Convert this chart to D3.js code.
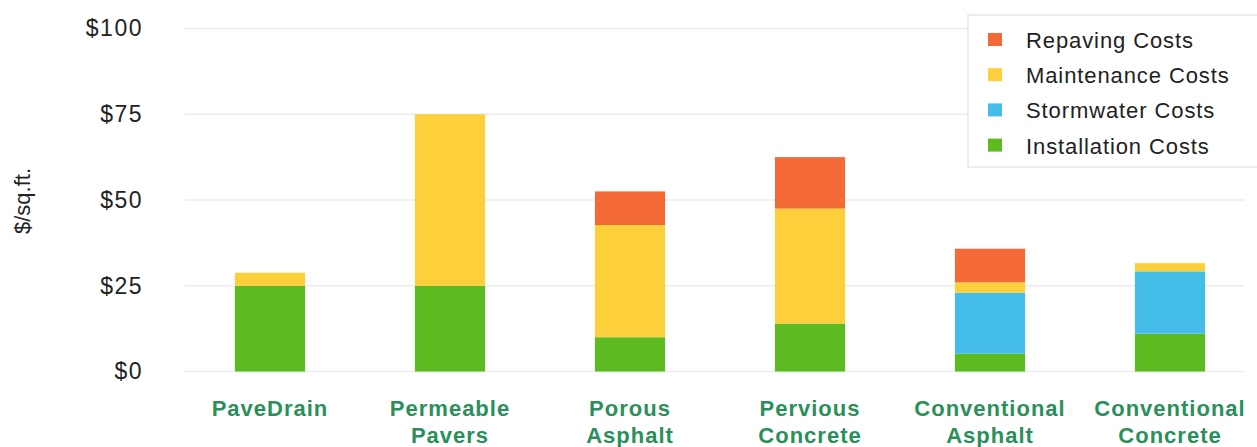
<!DOCTYPE html>
<html>
<head>
<meta charset="utf-8">
<script src="https://cdn.jsdelivr.net/npm/d3@7"></script>
<style>
  html, body { margin: 0; padding: 0; background: #fff; }
  svg { display: block; font-family: "Liberation Sans", Arial, Helvetica, sans-serif; }
</style>
</head>
<body>
<svg id="chart" width="1257" height="447"></svg>
<script>
const categories = ["PaveDrain", "Permeable Pavers", "Porous Asphalt", "Pervious Concrete", "Conventional Asphalt", "Conventional Concrete"];
const installation = [25, 25, 10, 14, 5.2, 11];
const stormwater = [0, 0, 0, 0, 17.8, 18.2];
const maintenance = [3.8, 50, 32.7, 33.5, 3, 2.4];
const repaving = [0, 0, 9.8, 15, 9.8, 0];
const seriesNames = ["Installation Costs", "Stormwater Costs", "Maintenance Costs", "Repaving Costs"];
const seriesColors = ["#5dbb21", "#44bde9", "#fdd03b", "#f46a36"];
const yTicks = [0, 25, 50, 75, 100];

const svg = d3.select("#chart");

const rows = categories.map((c, i) => ({
  category: c,
  "Installation Costs": installation[i],
  "Stormwater Costs": stormwater[i],
  "Maintenance Costs": maintenance[i],
  "Repaving Costs": repaving[i]
}));
const stacked = d3.stack().keys(seriesNames)(rows);

const x = d3.scaleBand().domain(categories).range([180, 1260]).paddingInner(0.61).paddingOuter(0.305);
const y = d3.scaleLinear().domain([0, 100]).range([371.5, 28.5]);
const color = d3.scaleOrdinal().domain(seriesNames).range(seriesColors);

// gridlines
svg.append("g").selectAll("line").data(yTicks).join("line")
  .attr("x1", 185).attr("x2", 1245)
  .attr("y1", d => y(d)).attr("y2", d => y(d))
  .attr("stroke", "#ebebeb").attr("stroke-width", 1.5);

// y axis
const yAxis = svg.append("g").attr("transform", "translate(143,0)")
  .call(d3.axisLeft(y).tickValues(yTicks).tickFormat(d => "$" + d).tickSize(0).tickPadding(0));
yAxis.select(".domain").remove();
yAxis.selectAll("text")
  .attr("fill", "#222").attr("font-size", 23).attr("letter-spacing", 1.5)
  .attr("font-family", "'Liberation Sans', Arial, sans-serif")
  .attr("dy", "0.32em");

// y title
svg.append("text")
  .attr("transform", "translate(30,201) rotate(-90)")
  .attr("text-anchor", "middle")
  .attr("font-size", 22).attr("fill", "#222")
  .text("$/sq.ft.");

// bars
svg.append("g").selectAll("g").data(stacked).join("g")
  .attr("fill", d => color(d.key))
  .selectAll("rect").data(d => d).join("rect")
  .attr("x", d => x(d.data.category))
  .attr("width", x.bandwidth())
  .attr("y", d => y(d[1]))
  .attr("height", d => Math.max(0, y(d[0]) - y(d[1])));

// x axis labels
const xAxis = svg.append("g").attr("transform", "translate(0,371.5)")
  .call(d3.axisBottom(x).tickSize(0).tickFormat(""));
xAxis.select(".domain").remove();
xAxis.selectAll(".tick").each(function(d) {
  const words = d.split(" ");
  const t = d3.select(this).append("text")
    .attr("text-anchor", "middle")
    .attr("fill", "#2a8f5a")
    .attr("font-weight", "bold")
    .attr("font-size", 22)
    .attr("letter-spacing", 1)
    .attr("font-family", "'Liberation Sans', Arial, sans-serif");
  words.forEach((w, i) => {
    t.append("tspan").attr("x", 0).attr("y", 44 + i * 27).text(w);
  });
});

// legend
const legend = svg.append("g");
legend.append("rect")
  .attr("x", 968).attr("y", 15).attr("width", 300).attr("height", 152)
  .attr("fill", "#fff").attr("stroke", "#e6e6e6").attr("stroke-width", 1.5);
const legendOrder = seriesNames.slice().reverse();
const li = legend.selectAll("g.item").data(legendOrder).join("g")
  .attr("class", "item")
  .attr("transform", (d, i) => `translate(0,${i * 35.2})`);
li.append("rect")
  .attr("x", 988).attr("y", 33).attr("width", 14).attr("height", 13)
  .attr("fill", d => color(d));
li.append("text")
  .attr("x", 1026).attr("y", 48)
  .attr("font-size", 22).attr("letter-spacing", 0.9)
  .attr("fill", "#222")
  .text(d => d);
</script>
</body>
</html>
